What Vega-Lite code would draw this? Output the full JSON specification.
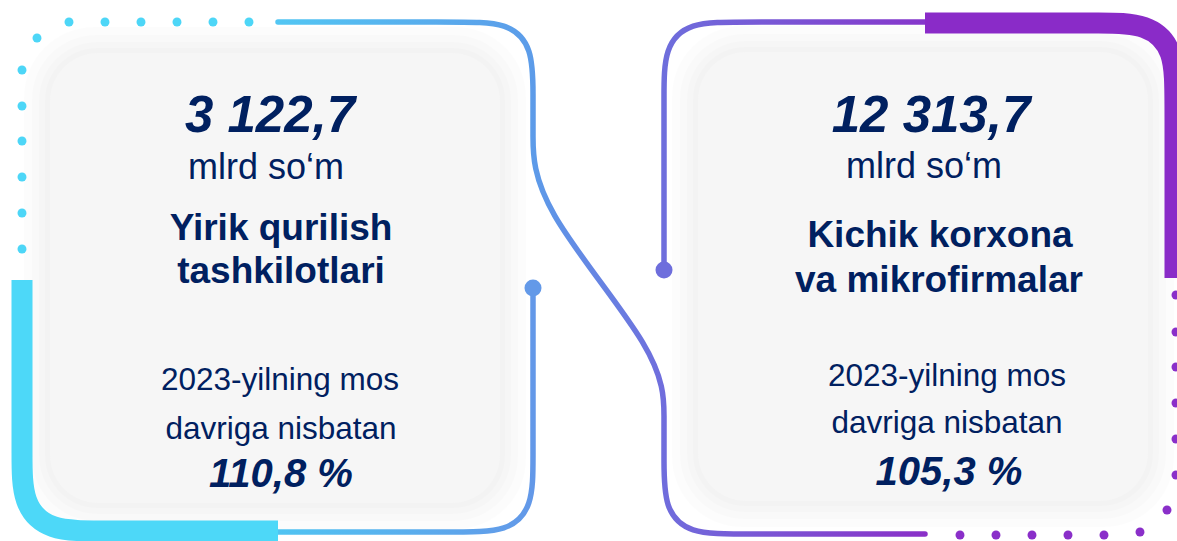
{
  "$schema": "https://vega.github.io/schema/vega-lite/v6.json",
  "autosize": {"type": "none"},
  "width": 1177,
  "height": 541,
  "padding": 0,
  "background": "#ffffff",
  "config": {"view": {"stroke": null}},
  "datasets": {
    "cards": [
      {"card": "left", "x": 50, "x2": 500, "y": 53, "y2": 503},
      {"card": "right", "x": 698, "x2": 1148, "y": 52, "y2": 501}
    ],
    "paths": [
      {"path": "A", "i": 0, "x": 278, "y": 22},
      {"path": "A", "i": 1, "x": 458, "y": 22},
      {"path": "A", "i": 2, "x": 508, "y": 22},
      {"path": "A", "i": 3, "x": 533, "y": 47},
      {"path": "A", "i": 4, "x": 533, "y": 97},
      {"path": "A", "i": 5, "x": 533, "y": 130},
      {"path": "A", "i": 6, "x": 533, "y": 202},
      {"path": "A", "i": 7, "x": 664, "y": 357},
      {"path": "A", "i": 8, "x": 664, "y": 420},
      {"path": "A", "i": 9, "x": 664, "y": 459},
      {"path": "A", "i": 10, "x": 664, "y": 509},
      {"path": "A", "i": 11, "x": 689, "y": 534},
      {"path": "A", "i": 12, "x": 739, "y": 534},
      {"path": "A", "i": 13, "x": 925, "y": 534},
      {"path": "B", "i": 0, "x": 533, "y": 288},
      {"path": "B", "i": 1, "x": 533, "y": 400},
      {"path": "B", "i": 2, "x": 533, "y": 457},
      {"path": "B", "i": 3, "x": 533, "y": 507},
      {"path": "B", "i": 4, "x": 508, "y": 532},
      {"path": "B", "i": 5, "x": 458, "y": 532},
      {"path": "B", "i": 6, "x": 278, "y": 532},
      {"path": "C", "i": 0, "x": 664, "y": 270},
      {"path": "C", "i": 1, "x": 664, "y": 150},
      {"path": "C", "i": 2, "x": 664, "y": 97},
      {"path": "C", "i": 3, "x": 664, "y": 47},
      {"path": "C", "i": 4, "x": 689, "y": 22},
      {"path": "C", "i": 5, "x": 739, "y": 22},
      {"path": "C", "i": 6, "x": 925, "y": 22},
      {"path": "TC", "i": 0, "x": 22, "y": 280},
      {"path": "TC", "i": 1, "x": 22, "y": 400},
      {"path": "TC", "i": 2, "x": 22, "y": 454},
      {"path": "TC", "i": 3, "x": 22, "y": 504},
      {"path": "TC", "i": 4, "x": 49, "y": 531},
      {"path": "TC", "i": 5, "x": 99, "y": 531},
      {"path": "TC", "i": 6, "x": 278, "y": 531},
      {"path": "TP", "i": 0, "x": 925, "y": 23},
      {"path": "TP", "i": 1, "x": 1050, "y": 23},
      {"path": "TP", "i": 2, "x": 1098, "y": 23},
      {"path": "TP", "i": 3, "x": 1148, "y": 23},
      {"path": "TP", "i": 4, "x": 1175, "y": 50},
      {"path": "TP", "i": 5, "x": 1175, "y": 100},
      {"path": "TP", "i": 6, "x": 1175, "y": 278}
    ],
    "dots": [
      {"grp": "cyan", "x": 69, "y": 22}, {"grp": "cyan", "x": 105, "y": 22},
      {"grp": "cyan", "x": 141, "y": 22}, {"grp": "cyan", "x": 177, "y": 22},
      {"grp": "cyan", "x": 213, "y": 22}, {"grp": "cyan", "x": 249, "y": 22},
      {"grp": "cyan", "x": 37, "y": 38},
      {"grp": "cyan", "x": 22, "y": 70}, {"grp": "cyan", "x": 22, "y": 106},
      {"grp": "cyan", "x": 22, "y": 141}, {"grp": "cyan", "x": 22, "y": 177},
      {"grp": "cyan", "x": 22, "y": 213}, {"grp": "cyan", "x": 22, "y": 249},
      {"grp": "purple", "x": 1176, "y": 295}, {"grp": "purple", "x": 1176, "y": 332},
      {"grp": "purple", "x": 1176, "y": 367}, {"grp": "purple", "x": 1176, "y": 403},
      {"grp": "purple", "x": 1176, "y": 439}, {"grp": "purple", "x": 1176, "y": 475},
      {"grp": "purple", "x": 1167, "y": 510}, {"grp": "purple", "x": 1140, "y": 532},
      {"grp": "purple", "x": 1104, "y": 535}, {"grp": "purple", "x": 1068, "y": 535},
      {"grp": "purple", "x": 1032, "y": 535}, {"grp": "purple", "x": 996, "y": 535},
      {"grp": "purple", "x": 960, "y": 535}
    ],
    "knobs": [
      {"knob": "left", "x": 533, "y": 288},
      {"knob": "right", "x": 664, "y": 270}
    ],
    "texts": [
      {"card": "left", "role": "value", "text": "3 122,7", "x": 270, "y": 132},
      {"card": "left", "role": "unit", "text": "mlrd so‘m", "x": 266, "y": 179},
      {"card": "left", "role": "name", "text": "Yirik qurilish", "x": 281, "y": 240},
      {"card": "left", "role": "name", "text": "tashkilotlari", "x": 281, "y": 283},
      {"card": "left", "role": "note", "text": "2023-yilning mos", "x": 280, "y": 390},
      {"card": "left", "role": "note", "text": "davriga nisbatan", "x": 281, "y": 439},
      {"card": "left", "role": "pct", "text": "110,8 %", "x": 281, "y": 487},
      {"card": "right", "role": "value", "text": "12 313,7", "x": 931, "y": 132},
      {"card": "right", "role": "unit", "text": "mlrd so‘m", "x": 924, "y": 178},
      {"card": "right", "role": "name", "text": "Kichik korxona", "x": 940, "y": 247},
      {"card": "right", "role": "name", "text": "va mikrofirmalar", "x": 939, "y": 292},
      {"card": "right", "role": "note", "text": "2023-yilning mos", "x": 947, "y": 386},
      {"card": "right", "role": "note", "text": "davriga nisbatan", "x": 947, "y": 433},
      {"card": "right", "role": "pct", "text": "105,3 %", "x": 949, "y": 485}
    ]
  },
  "encoding": {
    "x": {"field": "x", "type": "quantitative", "axis": null, "scale": {"domain": [0, 1177], "nice": false, "zero": false}},
    "y": {"field": "y", "type": "quantitative", "axis": null, "scale": {"domain": [0, 541], "nice": false, "zero": false, "reverse": true}}
  },
  "layer": [
    {
      "data": {"name": "cards"},
      "mark": {"type": "rect", "fill": "#000000", "opacity": 0.012, "cornerRadius": 70, "xOffset": -26, "x2Offset": 26, "yOffset": -26, "y2Offset": 26},
      "encoding": {"x2": {"field": "x2"}, "y2": {"field": "y2"}}
    },
    {
      "data": {"name": "cards"},
      "mark": {"type": "rect", "fill": "#000000", "opacity": 0.012, "cornerRadius": 64, "xOffset": -18, "x2Offset": 18, "yOffset": -18, "y2Offset": 18},
      "encoding": {"x2": {"field": "x2"}, "y2": {"field": "y2"}}
    },
    {
      "data": {"name": "cards"},
      "mark": {"type": "rect", "fill": "#000000", "opacity": 0.012, "cornerRadius": 58, "xOffset": -11, "x2Offset": 11, "yOffset": -11, "y2Offset": 11},
      "encoding": {"x2": {"field": "x2"}, "y2": {"field": "y2"}}
    },
    {
      "data": {"name": "cards"},
      "mark": {"type": "rect", "fill": "#000000", "opacity": 0.012, "cornerRadius": 52, "xOffset": -5, "x2Offset": 5, "yOffset": -5, "y2Offset": 5},
      "encoding": {"x2": {"field": "x2"}, "y2": {"field": "y2"}}
    },
    {
      "data": {"name": "cards"},
      "mark": {"type": "rect", "fill": "#f6f6f6", "cornerRadius": 48},
      "encoding": {"x2": {"field": "x2"}, "y2": {"field": "y2"}}
    },
    {
      "data": {"name": "paths"},
      "transform": [{"filter": "datum.path === 'TC'"}],
      "mark": {"type": "line", "interpolate": "basis", "stroke": "#4dd8f8", "strokeWidth": 21, "strokeCap": "butt"},
      "encoding": {"order": {"field": "i", "type": "quantitative"}}
    },
    {
      "data": {"name": "paths"},
      "transform": [{"filter": "datum.path === 'TP'"}],
      "mark": {"type": "line", "interpolate": "basis", "stroke": "#8a2bc8", "strokeWidth": 21, "strokeCap": "butt"},
      "encoding": {"order": {"field": "i", "type": "quantitative"}}
    },
    {
      "data": {"name": "paths"},
      "transform": [{"filter": "datum.path === 'A'"}],
      "mark": {"type": "line", "interpolate": "basis", "strokeWidth": 5.5, "strokeCap": "round",
        "stroke": {"gradient": "linear", "x1": 0, "y1": 0, "x2": 1, "y2": 0,
          "stops": [
            {"offset": 0, "color": "#52c6f3"},
            {"offset": 0.39, "color": "#5c9ce9"},
            {"offset": 0.6, "color": "#706cdc"},
            {"offset": 1, "color": "#8a30c8"}
          ]}},
      "encoding": {"order": {"field": "i", "type": "quantitative"}}
    },
    {
      "data": {"name": "paths"},
      "transform": [{"filter": "datum.path === 'B'"}],
      "mark": {"type": "line", "interpolate": "basis", "strokeWidth": 5.5, "strokeCap": "butt",
        "stroke": {"gradient": "linear", "x1": 0, "y1": 0, "x2": 1, "y2": 0,
          "stops": [
            {"offset": 0, "color": "#50c4f2"},
            {"offset": 1, "color": "#6398e8"}
          ]}},
      "encoding": {"order": {"field": "i", "type": "quantitative"}}
    },
    {
      "data": {"name": "paths"},
      "transform": [{"filter": "datum.path === 'C'"}],
      "mark": {"type": "line", "interpolate": "basis", "strokeWidth": 5.5, "strokeCap": "butt",
        "stroke": {"gradient": "linear", "x1": 0, "y1": 0, "x2": 1, "y2": 0,
          "stops": [
            {"offset": 0, "color": "#6e6edc"},
            {"offset": 1, "color": "#8636cb"}
          ]}},
      "encoding": {"order": {"field": "i", "type": "quantitative"}}
    },
    {
      "data": {"name": "dots"},
      "mark": {"type": "point", "shape": "circle", "filled": true, "size": 80, "opacity": 1},
      "encoding": {
        "color": {"field": "grp", "type": "nominal", "legend": null, "scale": {"domain": ["cyan", "purple"], "range": ["#4dd6f7", "#8a2fc9"]}}
      }
    },
    {
      "data": {"name": "knobs"},
      "mark": {"type": "point", "shape": "circle", "filled": true, "size": 290, "opacity": 1},
      "encoding": {
        "fill": {"field": "knob", "type": "nominal", "legend": null, "scale": {"domain": ["left", "right"], "range": ["#6399e8", "#6e6edc"]}},
        "stroke": {"value": null}
      }
    },
    {
      "data": {"name": "texts"},
      "transform": [{"filter": "datum.role === 'value'"}],
      "mark": {"type": "text", "font": "Liberation Sans", "fontSize": 51, "fontWeight": "bold", "fontStyle": "italic", "align": "center", "baseline": "alphabetic", "color": "#002060"},
      "encoding": {"text": {"field": "text"}}
    },
    {
      "data": {"name": "texts"},
      "transform": [{"filter": "datum.role === 'unit'"}],
      "mark": {"type": "text", "font": "Liberation Sans", "fontSize": 36, "align": "center", "baseline": "alphabetic", "color": "#002060"},
      "encoding": {"text": {"field": "text"}}
    },
    {
      "data": {"name": "texts"},
      "transform": [{"filter": "datum.role === 'name'"}],
      "mark": {"type": "text", "font": "Liberation Sans", "fontSize": 37, "fontWeight": "bold", "align": "center", "baseline": "alphabetic", "color": "#002060"},
      "encoding": {"text": {"field": "text"}}
    },
    {
      "data": {"name": "texts"},
      "transform": [{"filter": "datum.role === 'note'"}],
      "mark": {"type": "text", "font": "Liberation Sans", "fontSize": 31.5, "align": "center", "baseline": "alphabetic", "color": "#002060"},
      "encoding": {"text": {"field": "text"}}
    },
    {
      "data": {"name": "texts"},
      "transform": [{"filter": "datum.role === 'pct'"}],
      "mark": {"type": "text", "font": "Liberation Sans", "fontSize": 40, "fontWeight": "bold", "fontStyle": "italic", "align": "center", "baseline": "alphabetic", "color": "#002060"},
      "encoding": {"text": {"field": "text"}}
    }
  ]
}
